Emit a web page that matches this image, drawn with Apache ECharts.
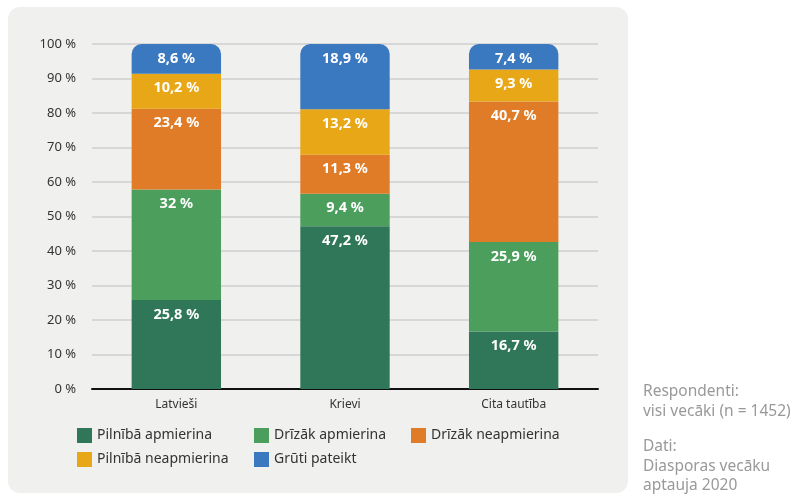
<!DOCTYPE html>
<html>
<head>
<meta charset="utf-8">
<script src="https://cdn.jsdelivr.net/npm/echarts@6/dist/echarts.min.js"></script>
<style>
  html, body { margin: 0; padding: 0; background: #fff; }
  #chart { width: 795px; height: 495px; }
</style>
</head>
<body>
<div id="chart"></div>
<script>
// categories and series values (percent)
const categories = ['Latvieši', 'Krievi', 'Cita tautība'];
const seriesNames = ['Pilnībā apmierina', 'Drīzāk apmierina', 'Drīzāk neapmierina', 'Pilnībā neapmierina', 'Grūti pateikt'];
const pilnibaApmierina = [25.8, 47.2, 16.7];
const drizakApmierina = [32, 9.4, 25.9];
const drizakNeapmierina = [23.4, 11.3, 40.7];
const pilnibaNeapmierina = [10.2, 13.2, 9.3];
const grutiPateikt = [8.6, 18.9, 7.4];
const colors = ['#30775a', '#4b9e5c', '#e07c28', '#e8a716', '#3a78bf'];

const font = '"Noto Sans", sans-serif';
const allData = [pilnibaApmierina, drizakApmierina, drizakNeapmierina, pilnibaNeapmierina, grutiPateikt];

var myChart = echarts.init(document.getElementById('chart'), null, { width: 795, height: 495 });

const series = seriesNames.map(function (name, i) {
  return {
    name: name,
    type: 'bar',
    stack: 'total',
    barWidth: '53%',
    data: allData[i],
    itemStyle: {
      color: colors[i],
      borderRadius: i === seriesNames.length - 1 ? [10, 10, 0, 0] : 0
    },
    label: {
      show: true,
      position: 'insideTop',
      distance: 7,
      color: '#fff',
      fontWeight: 'bold',
      fontSize: 14.5,
      fontFamily: font,
      formatter: function (p) { return String(p.value).replace('.', ',') + ' %'; }
    }
  };
});

const legendBase = {
  orient: 'vertical',
  top: 428,
  padding: 0,
  itemWidth: 15,
  itemHeight: 15,
  itemGap: 9,
  icon: 'rect',
  textStyle: { fontSize: 14, color: '#333', fontFamily: font }
};

const option = {
  animation: false,
  textStyle: { fontFamily: font },
  graphic: [
    {
      type: 'rect',
      z: -10,
      shape: { x: 8, y: 7, width: 620, height: 486, r: 12 },
      style: { fill: '#f0f0ee' }
    },
    {
      type: 'text', left: 643, top: 382,
      style: { text: 'Respondenti:\nvisi vecāki (n = 1452)', fill: '#999', fontSize: 15.5, lineHeight: 20, fontFamily: font }
    },
    {
      type: 'text', left: 643, top: 437,
      style: { text: 'Dati:\nDiasporas vecāku\naptauja 2020', fill: '#999', fontSize: 15.5, lineHeight: 19.5, fontFamily: font }
    }
  ],
  legend: [
    Object.assign({}, legendBase, { left: 77, data: ['Pilnībā apmierina', 'Pilnībā neapmierina'] }),
    Object.assign({}, legendBase, { left: 254, data: ['Drīzāk apmierina', 'Grūti pateikt'] }),
    Object.assign({}, legendBase, { left: 411, data: ['Drīzāk neapmierina'] })
  ],
  grid: { left: 92, right: 197, top: 44, bottom: 106 },
  xAxis: {
    type: 'category',
    data: categories,
    axisTick: { show: false },
    axisLine: { lineStyle: { color: '#111', width: 2 } },
    axisLabel: { color: '#333', fontSize: 12, margin: 10 }
  },
  yAxis: {
    type: 'value',
    min: 0,
    max: 100,
    interval: 10,
    axisLabel: { formatter: '{value} %', color: '#333', fontSize: 13, margin: 16 },
    splitLine: { lineStyle: { color: '#cfcfcf', width: 1.5 } }
  },
  series: series
};
myChart.setOption(option);
</script>
</body>
</html>
